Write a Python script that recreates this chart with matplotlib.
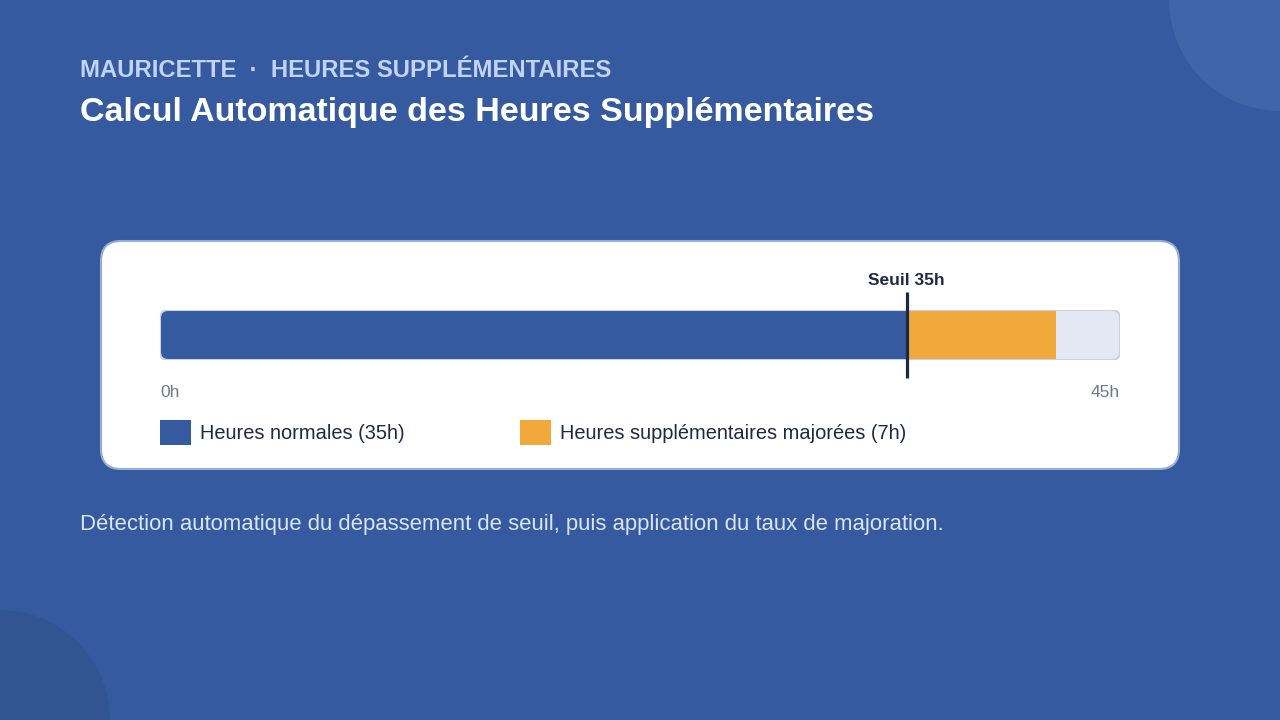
import matplotlib.pyplot as plt
from matplotlib.patches import FancyBboxPatch, Circle, Rectangle

plt.rcParams['font.family'] = ['Liberation Sans', 'DejaVu Sans']

# data
segment_labels = ['Heures normales (35h)', 'Heures supplémentaires majorées (7h)']
segment_starts = [0, 35]
segment_hours = [35, 7]
segment_colors = ['#355a9f', '#f1a93b']
threshold = 35
max_hours = 45
tick_labels = ['0h', '45h']

BG = '#355a9f'

fig = plt.figure(figsize=(12.8, 7.2), dpi=100, facecolor=BG)

# background layer in pixel coordinates
bg = fig.add_axes([0, 0, 1, 1])
bg.set_xlim(0, 1280)
bg.set_ylim(720, 0)
bg.axis('off')
bg.add_patch(Circle((1280, 0), 111, color='#3f66a8', lw=0))
bg.add_patch(Circle((0, 720), 110, color='#325490', lw=0))

# card
bg.add_patch(FancyBboxPatch((101, 241), 1078, 228, boxstyle='round,pad=0,rounding_size=20',
                            facecolor='white', edgecolor='#9aaed3', lw=1.5))

bg.text(80, 77, 'MAURICETTE  ·  HEURES SUPPLÉMENTAIRES', color='#c3d3f3', fontsize=17.2,
        fontweight='bold', va='baseline')
bg.text(80, 121, 'Calcul Automatique des Heures Supplémentaires', color='white', fontsize=24.5,
        fontweight='bold', va='baseline')
bg.text(80, 530, 'Détection automatique du dépassement de seuil, puis application du taux de majoration.',
        color='#dbe4f6', fontsize=15.9, va='baseline')

# bar axes
ax = fig.add_axes([160 / 1280, (720 - 360) / 720, 960 / 1280, 50 / 720])
ax.set_xlim(0, max_hours)
ax.set_ylim(0, 1)
ax.axis('off')

aspect = (960 / max_hours) / 50
track = FancyBboxPatch((0, 0), max_hours, 1, boxstyle='round,pad=0,rounding_size=0.38',
                       mutation_aspect=aspect, facecolor='#e3e8f3', edgecolor='none')
ax.add_patch(track)
bars = ax.barh([0.5], segment_hours, left=segment_starts, height=1, color=segment_colors)
for b in bars:
    b.set_clip_path(track)
ax.add_patch(FancyBboxPatch((0, 0), max_hours, 1, boxstyle='round,pad=0,rounding_size=0.38',
                            mutation_aspect=aspect, facecolor='none', edgecolor='#c8d2e6', lw=1.5))

ax.plot([threshold, threshold], [-0.36, 1.36], color='#1a2947', lw=2.3, clip_on=False,
        solid_capstyle='butt')
ax.text(threshold, 1.5, f'Seuil {threshold}h', ha='center', va='baseline', fontsize=12.5,
        fontweight='bold', color='#1c2a45')

ax.text(0, -0.74, tick_labels[0], ha='left', va='baseline', fontsize=12.5, color='#6b7a91')
ax.text(max_hours, -0.74, tick_labels[1], ha='right', va='baseline', fontsize=12.5, color='#6b7a91')

# legend
leg_x = [160, 520]
for x, lab, col in zip(leg_x, segment_labels, segment_colors):
    bg.add_patch(Rectangle((x, 420), 31, 25, color=col, lw=0))
    bg.text(x + 40, 439, lab, color='#1e2a45', fontsize=14.4, va='baseline')

fig.savefig('out.png', dpi=100, facecolor=BG)
